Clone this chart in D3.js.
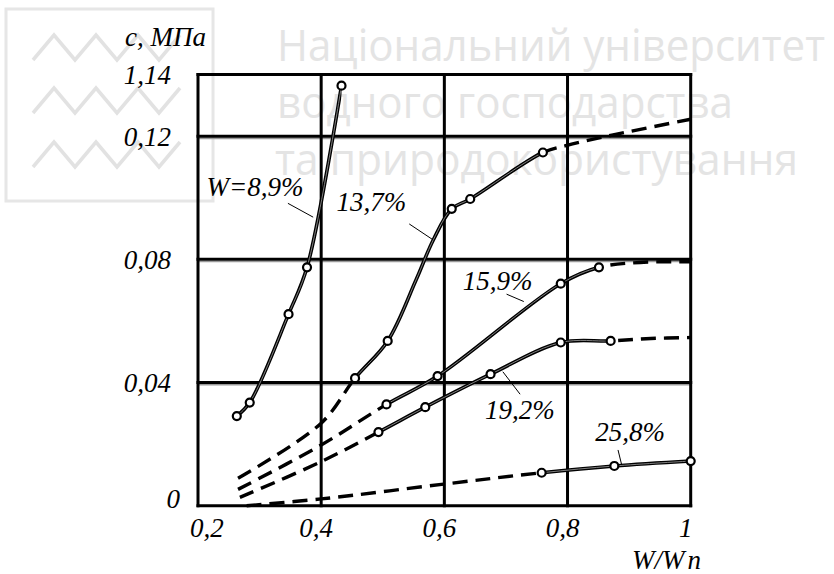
<!DOCTYPE html>
<html>
<head>
<meta charset="utf-8">
<script src="https://cdn.jsdelivr.net/npm/d3@7"></script>
<style>
  body { margin: 0; background: #fff; }
  svg { display: block; }
  .lbl { font-family: "Liberation Serif", "Times New Roman", serif; font-style: italic; font-size: 27px; fill: #000; }
  .wm { font-family: "Open Sans", "DejaVu Sans", sans-serif; fill: #e4e4e4; }
</style>
</head>
<body>
<svg id="chart" width="834" height="574"></svg>
<script>
// Axis ticks
const xTicks = [0.2, 0.4, 0.6, 0.8, 1.0];
const xTickLabels = ["0,2", "0,4", "0,6", "0,8", "1"];
const yTicks = [0, 0.04, 0.08, 0.12, 0.14];
const yTickLabels = ["0", "0,04", "0,08", "0,12", "1,14"];

// Curve names (moisture W)
const seriesNames = ["W=8,9%", "13,7%", "15,9%", "19,2%", "25,8%"];

// Measured points: relative moisture W/Wn and cohesion c, MPa
const w89X = [0.263, 0.284, 0.347, 0.377, 0.433];
const w89C = [0.0291, 0.0335, 0.0622, 0.0774, 0.1364];

const w137X = [0.455, 0.508, 0.612, 0.642, 0.760];
const w137C = [0.0414, 0.0535, 0.0964, 0.0996, 0.1147];
// extra points along the fitted 13,7% curve (no markers)
const w137CurveX = [0.554, 0.582];
const w137CurveC = [0.0733, 0.0863];

const w159X = [0.506, 0.589, 0.789, 0.851];
const w159C = [0.0329, 0.0421, 0.0721, 0.0774];

const w192X = [0.493, 0.569, 0.675, 0.789, 0.870];
const w192C = [0.0239, 0.0320, 0.0427, 0.0530, 0.0535];

const w258X = [0.758, 0.876, 1.0];
const w258C = [0.0107, 0.0129, 0.0145];

// Extrapolated (dashed) parts, before and after the measured range
const w137LeftX = [0.265, 0.400];
const w137LeftC = [0.0089, 0.0268];
const w137RightX = [0.799, 0.874, 1.0];
const w137RightC = [0.1170, 0.1204, 0.1255];

const w159LeftX = [0.265, 0.400];
const w159LeftC = [0.0053, 0.0197];
const w159RightX = [0.918, 1.0];
const w159RightC = [0.0790, 0.0792];

const w192LeftX = [0.268, 0.400];
const w192LeftC = [0.0027, 0.0143];
const w192RightX = [0.935, 1.0];
const w192RightC = [0.0543, 0.0546];

const w258LeftX = [0.279, 0.400, 0.599];
const w258LeftC = [0.0, 0.0022, 0.0070];

const zip = (xs, cs) => xs.map((x, i) => ({ x, c: cs[i] }));

const series = [
  { name: seriesNames[0], pts: zip(w89X, w89C), extra: [], left: [], right: [] },
  { name: seriesNames[1], pts: zip(w137X, w137C), extra: zip(w137CurveX, w137CurveC), left: zip(w137LeftX, w137LeftC), right: zip(w137RightX, w137RightC) },
  { name: seriesNames[2], pts: zip(w159X, w159C), extra: [], left: zip(w159LeftX, w159LeftC), right: zip(w159RightX, w159RightC) },
  { name: seriesNames[3], pts: zip(w192X, w192C), extra: [], left: zip(w192LeftX, w192LeftC), right: zip(w192RightX, w192RightC) },
  { name: seriesNames[4], pts: zip(w258X, w258C), extra: [], left: zip(w258LeftX, w258LeftC), right: [] }
];

// Label anchors and leader lines, in data units
const labelAt = [
  { x: 0.214, c: 0.1005 },
  { x: 0.425, c: 0.0957 },
  { x: 0.630, c: 0.0701 },
  { x: 0.666, c: 0.0282 },
  { x: 0.845, c: 0.0210 }
];
const leaders = [
  [{ x: 0.346, c: 0.0982 }, { x: 0.387, c: 0.0937 }],
  [{ x: 0.543, c: 0.0915 }, { x: 0.582, c: 0.0863 }],
  [{ x: 0.701, c: 0.0687 }, { x: 0.729, c: 0.0663 }],
  [{ x: 0.695, c: 0.0435 }, { x: 0.723, c: 0.0362 }],
  [{ x: 0.882, c: 0.0181 }, { x: 0.888, c: 0.0132 }]
];

const svg = d3.select("#chart");

// ---- background emblem and institution name ----
const wm = svg.append("g");
wm.append("rect").attr("x", 6).attr("y", 9).attr("width", 207).attr("height", 192)
  .attr("fill", "none").attr("stroke", "#e6e6e6").attr("stroke-width", 3);
[60, 113, 167].forEach(yv => {
  const pts = [];
  for (let i = 0; i <= 7; i++) pts.push([33 + i * 21, i % 2 === 0 ? yv : yv - 25]);
  wm.append("polyline").attr("points", pts.map(p => p.join(",")).join(" "))
    .attr("fill", "none").attr("stroke", "#e2e2e2").attr("stroke-width", 3.5);
});
const wmLines = [
  { t: "Національний університет", x: 277, y: 61, w: 548 },
  { t: "водного господарства", x: 277, y: 118, w: 456 },
  { t: "та природокористування", x: 275, y: 175, w: 523 }
];
wmLines.forEach(d => {
  wm.append("text").attr("class", "wm").attr("x", d.x).attr("y", d.y)
    .attr("font-size", 43).attr("textLength", d.w).attr("lengthAdjust", "spacingAndGlyphs").text(d.t);
});

// ---- scales ----
const x = d3.scaleLinear().domain([0.2, 1.0]).range([198, 690.7]);
const y = d3.scaleLinear().domain([0, 0.14]).range([505.7, 74.6]);

// ---- grid ----
const grid = svg.append("g");
yTicks.forEach(v => {
  if (v > 0 && v < 0.14) {
    grid.append("line").attr("x1", x(0.2)).attr("x2", x(1.0)).attr("y1", y(v) + 2.2).attr("y2", y(v) + 2.2)
      .attr("stroke", "#9a9a9a").attr("stroke-width", 1.6);
  }
});
yTicks.forEach(v => {
  grid.append("line").attr("x1", x(0.2) - 1.5).attr("x2", x(1.0) + 1.5).attr("y1", y(v)).attr("y2", y(v))
    .attr("stroke", "#000").attr("stroke-width", 3);
});
xTicks.forEach(v => {
  grid.append("line").attr("x1", x(v)).attr("x2", x(v)).attr("y1", y(0.14) - 1.5).attr("y2", y(0) + 1.5)
    .attr("stroke", "#000").attr("stroke-width", 3);
});

// ---- tick labels ----
xTicks.forEach((v, i) => {
  svg.append("text").attr("class", "lbl")
    .attr("x", x(v) + (i === 0 ? -8 : -5)).attr("y", 537)
    .attr("text-anchor", i === 0 ? "start" : "middle").text(xTickLabels[i]);
});
yTicks.forEach((v, i) => {
  svg.append("text").attr("class", "lbl")
    .attr("x", v === 0 ? 180 : 171).attr("y", y(v) + (v === 0 ? -7 : 0)).attr("dy", "0.35em")
    .attr("text-anchor", "end").text(yTickLabels[i]);
});
svg.append("text").attr("class", "lbl").attr("x", 125).attr("y", 46).text("c, МПа");
const xt = svg.append("text").attr("class", "lbl").attr("x", 632).attr("y", 569);
xt.append("tspan").text("W/W");
xt.append("tspan").attr("dx", 3).text("n");

// ---- curves ----
const line = d3.line().x(d => x(d.x)).y(d => y(d.c)).curve(d3.curveCatmullRom.alpha(0.5));
const defs = svg.append("defs");
const curves = svg.append("g");

series.forEach((s, i) => {
  const all = [...s.left, ...s.pts, ...s.extra, ...s.right].sort((a, b) => a.x - b.x);
  const x0 = x(s.pts[0].x), x1 = x(s.pts[s.pts.length - 1].x);

  // measured range: solid double stroke
  defs.append("clipPath").attr("id", "in" + i).append("rect")
    .attr("x", x0).attr("y", 0).attr("width", x1 - x0).attr("height", 574);
  // outside measured range: dashed
  const outside = defs.append("clipPath").attr("id", "out" + i);
  outside.append("rect").attr("x", 0).attr("y", 0).attr("width", x0).attr("height", 574);
  outside.append("rect").attr("x", x1).attr("y", 0).attr("width", 834 - x1).attr("height", 574);

  if (s.left.length || s.right.length) {
    curves.append("path").attr("d", line(all)).attr("clip-path", `url(#out${i})`)
      .attr("fill", "none").attr("stroke", "#000").attr("stroke-width", 3.4)
      .attr("stroke-dasharray", "15,8");
  }
  const solid = curves.append("g").attr("clip-path", `url(#in${i})`);
  solid.append("path").attr("d", line(all)).attr("fill", "none").attr("stroke", "#000").attr("stroke-width", 3.6);
  solid.append("path").attr("d", line(all)).attr("fill", "none").attr("stroke", "#8f8f8f").attr("stroke-width", 0.9);

  curves.selectAll(null).data(s.pts).enter().append("circle")
    .attr("cx", d => x(d.x)).attr("cy", d => y(d.c)).attr("r", 4)
    .attr("fill", "#fff").attr("stroke", "#000").attr("stroke-width", 2.2);
});

// ---- curve labels with leaders ----
series.forEach((s, i) => {
  const L = leaders[i];
  svg.append("line").attr("x1", x(L[0].x)).attr("y1", y(L[0].c)).attr("x2", x(L[1].x)).attr("y2", y(L[1].c))
    .attr("stroke", "#000").attr("stroke-width", 1);
  svg.append("text").attr("class", "lbl").attr("x", x(labelAt[i].x)).attr("y", y(labelAt[i].c)).text(s.name);
});
</script>
</body>
</html>
